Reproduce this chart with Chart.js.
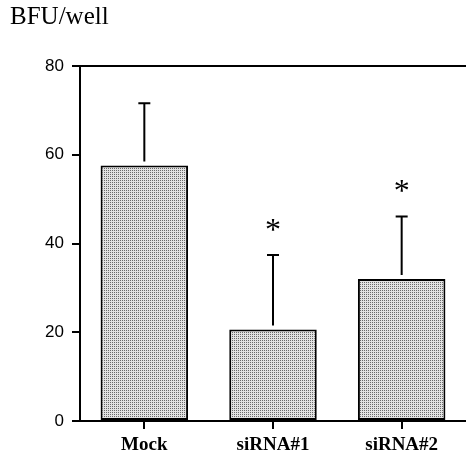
<!DOCTYPE html>
<html>
<head>
<meta charset="utf-8">
<script src="https://cdn.jsdelivr.net/npm/chart.js@4.4.1/dist/chart.umd.min.js"></script>
<style>
  html, body { margin: 0; padding: 0; background: #fff; }
  #wrap { width: 466px; height: 459px; }
</style>
</head>
<body>
<div id="wrap"><canvas id="bfuChart"></canvas></div>
<script>
// datos
var categories = ['Mock', 'siRNA#1', 'siRNA#2'];
var means = [57.6, 20.6, 32.0];
var errUp = [14.0, 16.8, 14.1];
var marks = ['', '*', '*'];
var yTicks = [0, 20, 40, 60, 80];

// relleno punteado de las barras
function dotPattern() {
    var c = document.createElement('canvas');
    c.width = 2; c.height = 2;
    var g = c.getContext('2d');
    g.fillStyle = '#e2e2e2';
    g.fillRect(0, 0, 2, 2);
    g.fillStyle = '#6a6a6a';
    g.fillRect(0, 0, 1, 1);
    return g.createPattern(c, 'repeat');
}

// barras de error (solo hacia arriba), asteriscos y linea superior
var extras = {
    id: 'extras',
    afterDatasetsDraw: function(chart) {
        var ctx = chart.ctx;
        var y = chart.scales.y;
        var area = chart.chartArea;
        var meta = chart.getDatasetMeta(0);
        ctx.save();
        ctx.strokeStyle = '#000';
        ctx.lineWidth = 2;
        // linea superior del marco
        ctx.beginPath();
        ctx.moveTo(area.left, area.top);
        ctx.lineTo(area.right, area.top);
        ctx.stroke();
        meta.data.forEach(function(bar, i) {
            var yBar = y.getPixelForValue(means[i]);
            var yTop = y.getPixelForValue(means[i] + errUp[i]);
            ctx.beginPath();
            ctx.moveTo(bar.x, yBar - 4);
            ctx.lineTo(bar.x, yTop);
            ctx.moveTo(bar.x - 6, yTop);
            ctx.lineTo(bar.x + 6, yTop);
            ctx.stroke();
            if (marks[i]) {
                ctx.fillStyle = '#000';
                ctx.font = '32px "Liberation Serif"';
                ctx.textAlign = 'center';
                ctx.textBaseline = 'alphabetic';
                ctx.fillText(marks[i], bar.x, yTop - 15);
            }
        });
        ctx.restore();
    }
};

var ctx = document.getElementById('bfuChart').getContext('2d');
var myChart = new Chart(ctx, {
    type: 'bar',
    data: {
        labels: categories,
        datasets: [{
            data: means,
            backgroundColor: dotPattern(),
            borderColor: '#000',
            borderWidth: 2,
            borderSkipped: false,
            barPercentage: 0.68,
            categoryPercentage: 1.0
        }]
    },
    options: {
        responsive: true,
        maintainAspectRatio: false,
        animation: false,
        layout: { padding: { left: 10, right: 0, top: 0, bottom: -3 } },
        plugins: {
            legend: { display: false },
            tooltip: { enabled: false },
            title: {
                display: true,
                text: 'BFU/well',
                align: 'start',
                color: '#000',
                font: { family: '"Liberation Serif"', size: 25, weight: 'normal' },
                padding: { top: 2, bottom: 34 }
            }
        },
        scales: {
            x: {
                border: { display: true, color: '#000', width: 2 },
                grid: { display: true, offset: false, drawOnChartArea: false, drawTicks: true, tickLength: 8, color: '#000', lineWidth: 2 },
                ticks: { color: '#000', padding: 7, font: { family: '"Liberation Serif"', size: 19, weight: 'bold', lineHeight: 1.0 } }
            },
            y: {
                min: 0,
                max: 80,
                afterBuildTicks: function(scale) {
                    scale.ticks = yTicks.map(function(v) { return { value: v }; });
                },
                afterFit: function(scale) { scale.width = 70; },
                border: { display: true, color: '#000', width: 2 },
                grid: { drawOnChartArea: false, drawTicks: true, tickLength: 8, color: '#000', lineWidth: 2 },
                ticks: { color: '#000', padding: 8, font: { family: '"Liberation Sans"', size: 17 } }
            }
        }
    },
    plugins: [extras]
});
</script>
</body>
</html>
